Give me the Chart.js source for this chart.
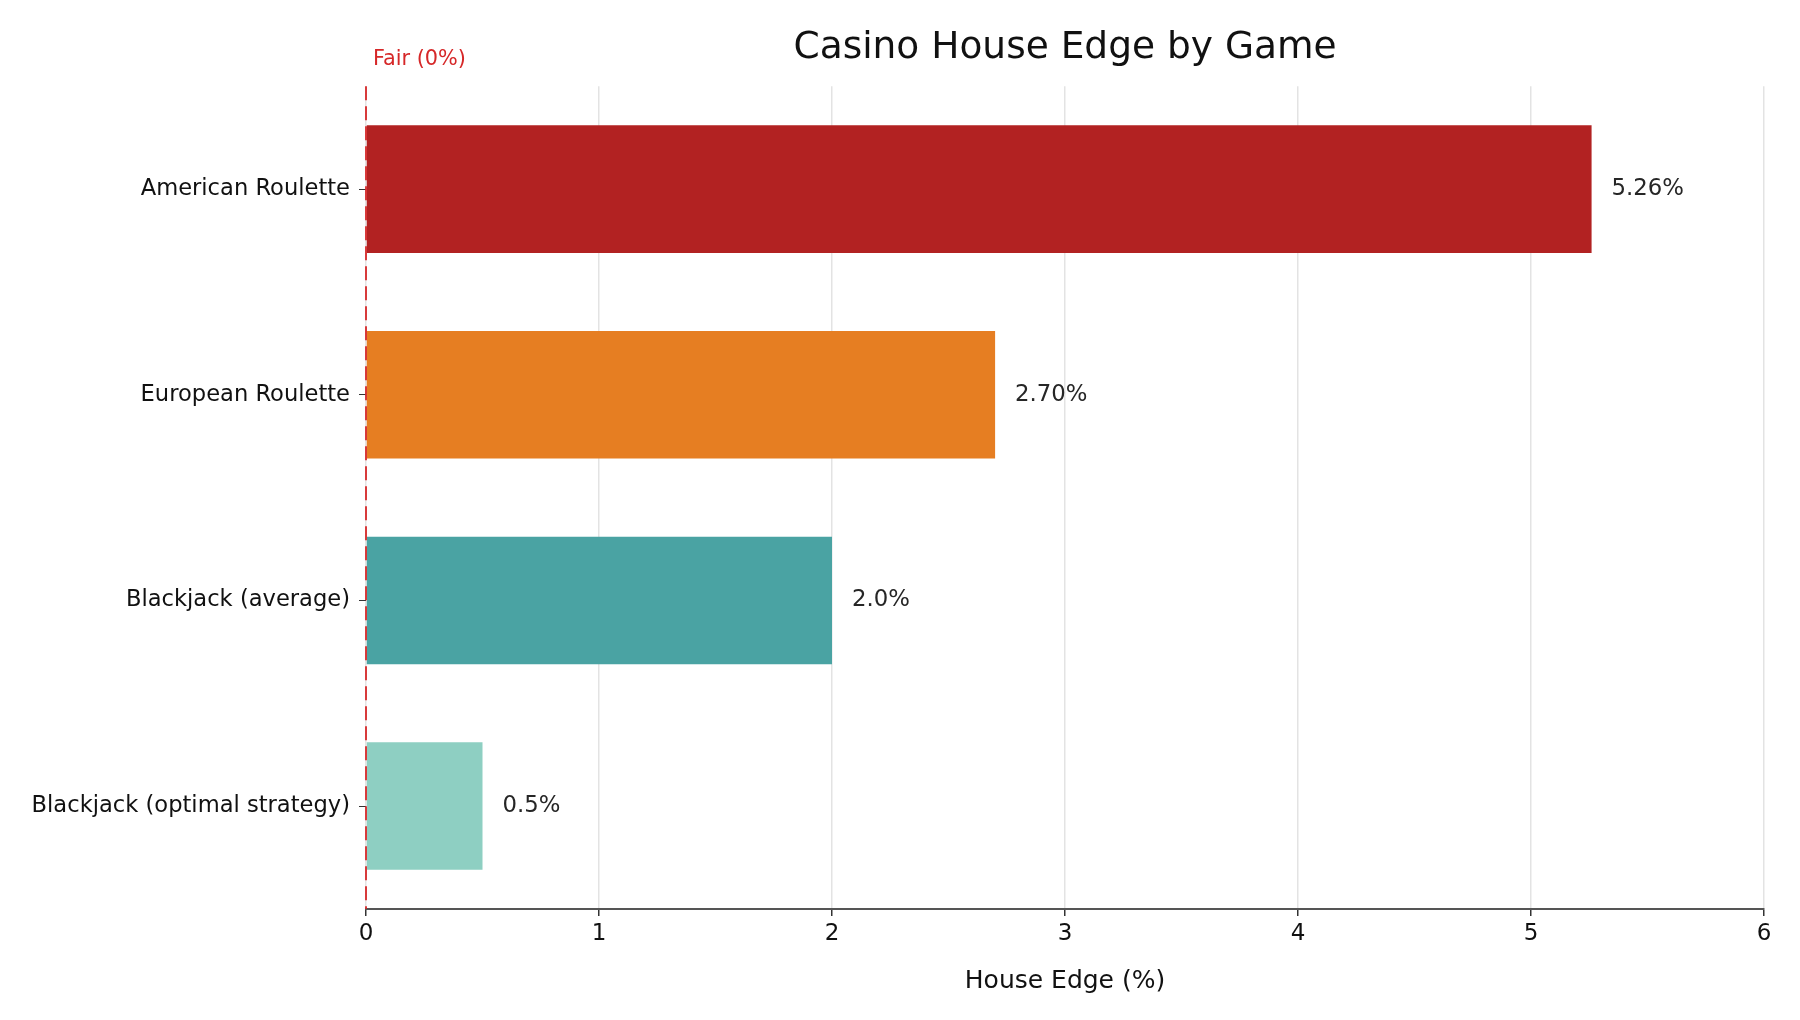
<!DOCTYPE html>
<html>
<head>
<meta charset="utf-8">
<script src="https://cdn.jsdelivr.net/npm/chart.js@4/dist/chart.umd.min.js"></script>
<style>
  body { margin: 0; background: #fff; }
  #wrap { width: 1800px; height: 1020px; }
</style>
</head>
<body>
<div id="wrap"><canvas id="houseEdgeChart" width="1800" height="1020"></canvas></div>
<script>
//! data
const games = [
  "American Roulette",
  "European Roulette",
  "Blackjack (average)",
  "Blackjack (optimal strategy)",
];
const houseEdge = [5.26, 2.7, 2.0, 0.5];
const edgeLabels = ["5.26%", "2.70%", "2.0%", "0.5%"];
const barColors = ["#b22222", "#e67e22", "#4aa3a3", "#8ecfc2"];
const xTicks = [0, 1, 2, 3, 4, 5, 6];

const FONT = "'DejaVu Sans', sans-serif";

//! draws the fair line and the value labels
const overlayPlugin = {
  id: "overlay",
  afterDatasetsDraw(chart) {
    const { ctx, chartArea, scales } = chart;
    const x0 = scales.x.getPixelForValue(0);

    // value labels at the end of each bar
    const meta = chart.getDatasetMeta(0);
    ctx.save();
    ctx.font = "22.8px " + FONT;
    ctx.fillStyle = "#262626";
    ctx.textAlign = "left";
    ctx.textBaseline = "middle";
    meta.data.forEach((bar, i) => {
      ctx.fillText(edgeLabels[i], bar.x + 20, bar.y);
    });
    ctx.restore();

    // dashed fair line
    ctx.save();
    ctx.strokeStyle = "rgba(214, 39, 40, 0.9)";
    ctx.lineWidth = 2;
    ctx.setLineDash([14, 6]);
    ctx.beginPath();
    ctx.moveTo(x0, chartArea.top);
    ctx.lineTo(x0, chartArea.bottom);
    ctx.stroke();
    ctx.setLineDash([]);
    ctx.font = "20.8px " + FONT;
    ctx.fillStyle = "#d62728";
    ctx.textAlign = "left";
    ctx.textBaseline = "middle";
    ctx.fillText("Fair (0%)", x0 + 7, 60);
    ctx.restore();
  },
};

const houseEdgeCtx = document
  .getElementById("houseEdgeChart")
  .getContext("2d");
const houseEdgeChart = new Chart(houseEdgeCtx, {
  type: "bar",
  data: {
    labels: games,
    datasets: [
      {
        data: houseEdge,
        backgroundColor: barColors,
        borderWidth: 0,
        categoryPercentage: 1,
        barPercentage: 0.62,
      },
    ],
  },
  plugins: [overlayPlugin],
  options: {
    indexAxis: "y",
    responsive: false,
    devicePixelRatio: 1,
    animation: false,
    layout: { padding: { left: 26, right: 36, top: 0, bottom: 24 } },
    scales: {
      x: {
        type: "linear",
        min: 0,
        max: 6,
        afterBuildTicks: (scale) => {
          scale.ticks = xTicks.map((v) => ({ value: v }));
        },
        grid: {
          color: "#e3e3e3",
          lineWidth: 1.5,
          tickColor: "#333",
          tickLength: 7,
        },
        border: { display: true, color: "#555", width: 2 },
        ticks: {
          color: "#111",
          font: { family: FONT, size: 23 },
          padding: 4,
        },
        title: {
          display: true,
          text: "House Edge (%)",
          color: "#111",
          font: { family: FONT, size: 25 },
          padding: { top: 14.5, bottom: 0 },
        },
      },
      y: {
        offset: true,
        afterFit: (scale) => {
          scale.width = 340;
        },
        grid: {
          display: true,
          drawOnChartArea: false,
          offset: false,
          tickColor: "#333",
          tickLength: 7,
        },
        border: { display: false },
        ticks: {
          color: "#111",
          font: { family: FONT, size: 22.6 },
          padding: 9,
        },
      },
    },
    plugins: {
      legend: { display: false },
      tooltip: { enabled: false },
      title: {
        display: true,
        fullSize: false,
        text: "Casino House Edge by Game",
        color: "#111",
        font: { family: FONT, size: 37.5, weight: "normal" },
        padding: { top: 25.3, bottom: 16 },
      },
    },
  },
});
</script>
</body>
</html>
